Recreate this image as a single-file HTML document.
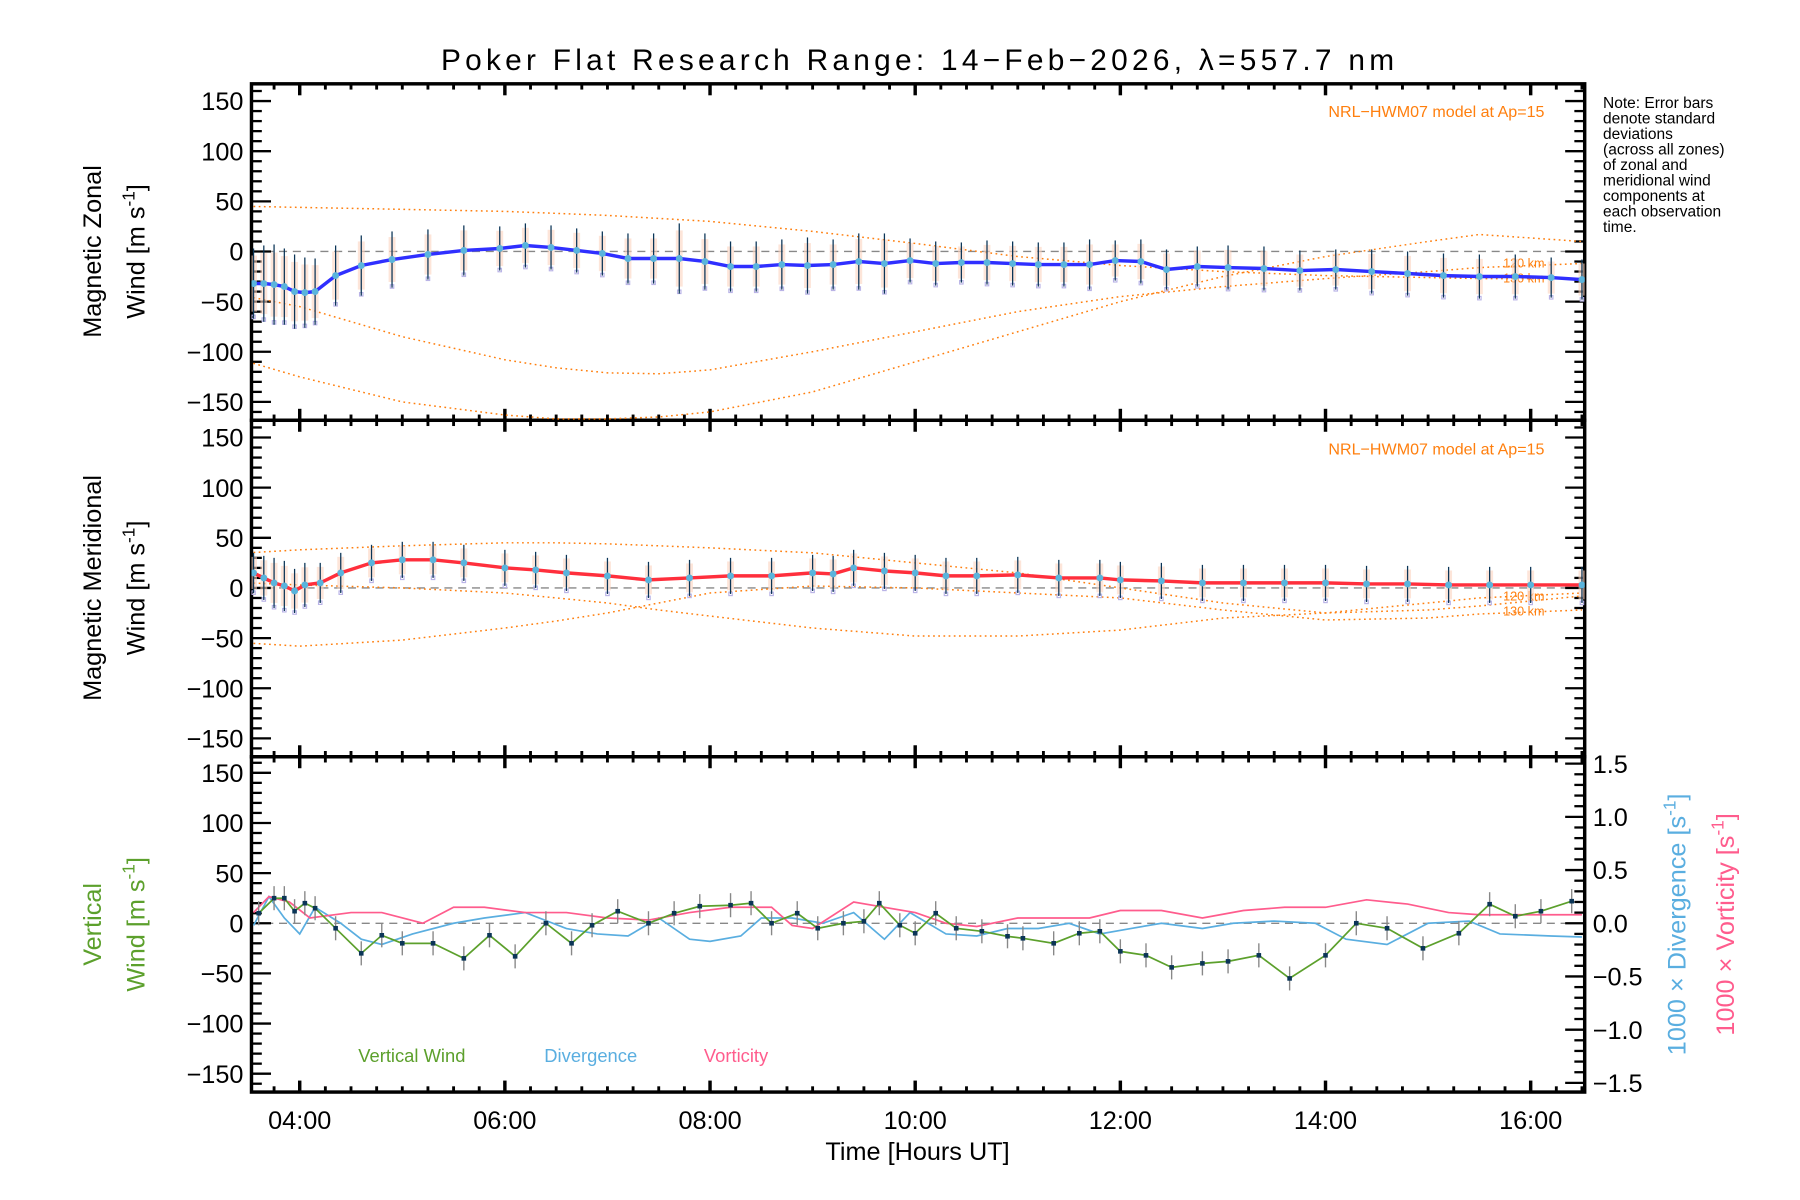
<!DOCTYPE html>
<html><head><meta charset="utf-8">
<style>
html,body{margin:0;padding:0;background:#fff;width:1800px;height:1200px;overflow:hidden}
svg{display:block}
text{font-family:"Liberation Sans",sans-serif}
</style></head>
<body>
<svg id="chart" width="1800" height="1200" viewBox="0 0 1567.5 1045" xmlns="http://www.w3.org/2000/svg">
<text x="799" y="61" font-size="26" text-anchor="middle" textLength="830">Poker Flat Research Range: 14−Feb−2026, λ=557.7 nm</text>
<g font-size="13.5">
<text x="1396" y="94">Note: Error bars</text>
<text x="1396" y="107.5">denote standard</text>
<text x="1396" y="121">deviations</text>
<text x="1396" y="134.5">(across all zones)</text>
<text x="1396" y="148">of zonal and</text>
<text x="1396" y="161.5">meridional wind</text>
<text x="1396" y="175">components at</text>
<text x="1396" y="188.5">each observation</text>
<text x="1396" y="202">time.</text>
</g>
<g id="plots"></g>
</svg>
<script>
// ---------- data ----------
const zonalTimes=[3.55,3.65,3.75,3.85,3.95,4.05,4.15,4.35,4.6,4.9,5.25,5.6,5.95,6.2,6.45,6.7,6.95,7.2,7.45,7.7,7.95,8.2,8.45,8.7,8.95,9.2,9.45,9.7,9.95,10.2,10.45,10.7,10.95,11.2,11.45,11.7,11.95,12.2,12.45,12.75,13.05,13.4,13.75,14.1,14.45,14.8,15.15,15.5,15.85,16.2,16.5];
const zonalWind=[-32,-32,-33,-35,-40,-41,-40,-24,-14,-8,-3,1,3,6,4,1,-2,-7,-7,-7,-10,-15,-15,-13,-14,-13,-10,-12,-9,-12,-11,-11,-12,-13,-13,-13,-9,-10,-18,-15,-16,-17,-19,-18,-20,-22,-24,-25,-25,-26,-28];
const zonalSd=[35,38,40,38,37,35,33,30,30,28,25,25,22,22,22,22,22,25,25,35,28,25,25,25,28,25,28,30,22,22,20,22,22,22,22,25,20,22,20,20,22,22,20,20,22,22,22,22,22,20,20];
const merTimes=[3.55,3.65,3.75,3.85,3.95,4.05,4.2,4.4,4.7,5.0,5.3,5.6,6.0,6.3,6.6,7.0,7.4,7.8,8.2,8.6,9.0,9.2,9.4,9.7,10.0,10.3,10.6,11.0,11.4,11.8,12.0,12.4,12.8,13.2,13.6,14.0,14.4,14.8,15.2,15.6,16.0,16.5];
const merWind=[15,10,5,2,-3,3,5,15,25,28,28,25,20,18,15,12,8,10,12,12,15,14,20,17,15,12,12,13,10,10,8,7,5,5,5,5,4,4,3,3,3,3];
const merSd=[20,22,25,25,22,22,20,20,18,18,18,18,18,18,18,18,18,18,18,18,18,18,18,18,18,18,18,18,18,18,18,18,18,18,18,18,18,18,18,18,18,18];
const modelTimes=[3.5,4,5,6,6.5,7,7.5,8,9,10,11,12,13,14,15,15.5,16.5];
const zonalModelA=[45,44,42,40,38,36,33,30,20,8,-5,-14,-20,-24,-26,-27,-27];
const zonalModelB=[-45,-55,-85,-108,-116,-121,-122,-118,-100,-80,-60,-45,-35,-27,-20,-16,-12];
const zonalModelC=[-110,-125,-150,-163,-167,-167,-165,-160,-140,-110,-80,-50,-25,-5,10,17,10];
const merModelA=[35,38,42,45,45,44,42,40,35,25,15,0,-15,-25,-22,-18,-8];
const merModelB=[-55,-58,-52,-40,-33,-25,-15,-5,2,0,-5,-10,-22,-32,-30,-26,-22];
const merModelC=[5,3,0,-5,-10,-15,-22,-28,-40,-48,-48,-42,-30,-25,-15,-10,-5];
const vertTimes=[3.6,3.75,3.85,3.95,4.05,4.15,4.35,4.6,4.8,5.0,5.3,5.6,5.85,6.1,6.4,6.65,6.85,7.1,7.4,7.65,7.9,8.2,8.4,8.6,8.85,9.05,9.3,9.5,9.65,9.85,10.0,10.2,10.4,10.65,10.9,11.05,11.35,11.6,11.8,12.0,12.25,12.5,12.8,13.05,13.35,13.65,14.0,14.3,14.6,14.95,15.3,15.6,15.85,16.1,16.4];
const vertWind=[10,25,25,12,20,15,-5,-30,-12,-20,-20,-35,-12,-33,0,-20,-2,12,0,10,17,18,20,0,10,-5,0,2,20,-2,-10,10,-5,-8,-13,-15,-20,-10,-8,-28,-32,-44,-40,-38,-32,-55,-32,0,-5,-25,-10,19,7,12,22];
const divTimes=[3.55,3.7,3.85,4.0,4.15,4.4,4.6,4.8,5.1,5.5,5.8,6.2,6.6,6.9,7.2,7.5,7.8,8.0,8.3,8.5,8.8,9.1,9.4,9.7,9.95,10.3,10.6,10.9,11.2,11.5,11.8,12.1,12.4,12.8,13.1,13.5,13.9,14.2,14.6,15.0,15.4,15.7,16.2,16.5];
const divergence=[-0.02,0.25,0.05,-0.1,0.15,0.0,-0.15,-0.2,-0.1,0.0,0.05,0.1,-0.05,-0.1,-0.12,0.05,-0.15,-0.17,-0.12,0.05,0.05,0.0,0.1,-0.15,0.1,-0.1,-0.12,-0.05,-0.05,0.0,-0.1,-0.05,0.0,-0.05,0.0,0.02,0.0,-0.15,-0.2,0.0,0.02,-0.1,-0.12,-0.13];
const vortTimes=[3.55,3.7,3.9,4.1,4.5,4.8,5.2,5.5,5.8,6.2,6.6,7.0,7.4,7.8,8.2,8.6,8.8,9.0,9.4,9.7,10.0,10.3,10.6,11.0,11.3,11.7,12.0,12.4,12.8,13.2,13.6,14.0,14.4,14.8,15.2,15.5,16.0,16.5];
const vorticity=[0.1,0.25,0.2,0.05,0.1,0.1,0.0,0.15,0.15,0.1,0.1,0.05,0.03,0.1,0.15,0.15,-0.02,-0.05,0.2,0.15,0.1,0.0,-0.03,0.05,0.05,0.05,0.12,0.12,0.05,0.12,0.15,0.15,0.22,0.18,0.1,0.08,0.08,0.08];
const yTickLabels=[150,100,50,0,-50,-100,-150];
const rightTickLabels=[1.5,1.0,0.5,0.0,-0.5,-1.0,-1.5];
const xTickLabels=['04:00','06:00','08:00','10:00','12:00','14:00','16:00'];
const xTickHours=[4,6,8,10,12,14,16];

// ---------- layout ----------
const L=219,R=1380;
const panels=[{top:73,bot:366,zero:219},{top:366,bot:659,zero:512},{top:659,bot:951,zero:804}];
const pxPerUnit=131/150;
const X=h=>261+(h-4)*89.33;
const Y=(p,v)=>panels[p].zero-v*pxPerUnit;
const YR=v=>804-v*(139/1.5);
const NS='http://www.w3.org/2000/svg';
const root=document.getElementById('plots');
function mk(tag,attrs,parent){const e=document.createElementNS(NS,tag);for(const k in attrs)e.setAttribute(k,attrs[k]);(parent||root).appendChild(e);return e;}
function txt(s,attrs,parent){const e=mk('text',attrs,parent);e.textContent=s;return e;}
function poly(ts,vs,yf){return ts.map((t,i)=>X(t).toFixed(1)+','+yf(vs[i]).toFixed(1)).join(' ');}

const defs=mk('defs',{});
panels.forEach((p,i)=>{const c=mk('clipPath',{id:'clip'+i},defs);mk('rect',{x:L,y:p.top,width:R-L,height:p.bot-p.top},c);});

panels.forEach((p,pi)=>{
  const g=mk('g',{});
  
  
  const z=mk('line',{x1:L,x2:R,y1:p.zero,y2:p.zero,stroke:'#888','stroke-width':1.2,'stroke-dasharray':'7,5'},g);
  
  
  for(let v=-160;v<=160;v+=10){
    const y=Y(pi,v); if(y<p.top+1||y>p.bot-1)continue;
    const len=(v%50===0)?17:9;
    mk('line',{x1:L,x2:L+len,y1:y,y2:y,stroke:'#000','stroke-width':2},g);
    if(pi<2) mk('line',{x1:R,x2:R-len,y1:y,y2:y,stroke:'#000','stroke-width':2},g);
  }
  yTickLabels.forEach(v=>{
    const t=txt(String(v).replace('-','−'),{x:212,y:Y(pi,v)+8,'font-size':22,'text-anchor':'end'},g);
    
    
  });
  for(let m=0;m<=13*60;m+=15){
    const h=3.5+m/60; const x=X(h); if(x<L+1||x>R-1)continue;
    const major=Math.abs((h-4)%2)<1e-6;
    const len=major?10:5;
    mk('line',{x1:x,x2:x,y1:p.bot,y2:p.bot-len,stroke:'#000','stroke-width':major?3:2.5},g);
    mk('line',{x1:x,x2:x,y1:p.top,y2:p.top+len,stroke:'#000','stroke-width':major?3:2.5},g);
  }
  const f=mk('rect',{x:L,y:p.top,width:R-L,height:p.bot-p.top,fill:'none',stroke:'#000','stroke-width':3},g);
  
  
});

function model(pi,vals,name){
  const l=mk('polyline',{points:poly(modelTimes,vals,v=>Y(pi,v)),fill:'none',stroke:'#ff7f0e','stroke-width':1.3,'stroke-dasharray':'1.5,3','clip-path':'url(#clip'+pi+')'});
  
  
}
model(0,zonalModelA,'zonal-model-a');model(0,zonalModelB,'zonal-model-b');model(0,zonalModelC,'zonal-model-c');
model(1,merModelA,'meridional-model-a');model(1,merModelB,'meridional-model-b');model(1,merModelC,'meridional-model-c');
[[0,98],[1,392]].forEach(([pi,y])=>{
  const t=txt('NRL−HWM07 model at Ap=15',{x:1345,y:y+4,'font-size':14,fill:'#ff7f0e','text-anchor':'end'});
  
  
});
[[0,233,'120 km'],[0,246,'130 km'],[1,523,'120 km'],[1,536,'130 km']].forEach(([pi,y,s])=>{
  const t=txt(s,{x:1345,y:y,'font-size':11,fill:'#ff7f0e','text-anchor':'end'});
  
  
});

function windSeries(pi,ts,vs,sd,color,name){
  const g=mk('g',{'clip-path':'url(#clip'+pi+')'});
  
  
  ts.forEach((t,i)=>{
    const x=X(t);
    const r=mk('rect',{x:x-3,y:Y(pi,vs[i]+sd[i]*0.8),width:6,height:sd[i]*1.6*pxPerUnit,fill:'#fbd3c0',opacity:0.6},g);
    
    
    const b=mk('rect',{x:x-1.5,y:Y(pi,vs[i]-sd[i]*0.9),width:3,height:3,fill:'none',stroke:'#b9b3e6','stroke-width':1},g);
    
    
    const e=mk('line',{x1:x,x2:x,y1:Y(pi,vs[i]+sd[i]),y2:Y(pi,vs[i]-sd[i]),stroke:'#0b3557','stroke-width':1.1},g);
    
    
  });
  const l=mk('polyline',{points:poly(ts,vs,v=>Y(pi,v)),fill:'none',stroke:color,'stroke-width':3},g);
  
  
  ts.forEach((t,i)=>{
    const c=mk('circle',{cx:X(t),cy:Y(pi,vs[i]),r:3,fill:'#5ab4dc'},g);
    
    
  });
}
windSeries(0,zonalTimes,zonalWind,zonalSd,'#2f2fff','zonal-wind');
windSeries(1,merTimes,merWind,merSd,'#ff2f3c','meridional-wind');

const g3=mk('g',{'clip-path':'url(#clip2)'});


const dl=mk('polyline',{points:poly(divTimes,divergence,YR),fill:'none',stroke:'#5aaee0','stroke-width':1.5},g3);


const vl=mk('polyline',{points:poly(vortTimes,vorticity,YR),fill:'none',stroke:'#ff5c8d','stroke-width':1.5},g3);


vertTimes.forEach((t,i)=>{
  const e=mk('line',{x1:X(t),x2:X(t),y1:Y(2,vertWind[i]+12),y2:Y(2,vertWind[i]-12),stroke:'#888','stroke-width':1.2},g3);
  
  
});
const wl=mk('polyline',{points:poly(vertTimes,vertWind,v=>Y(2,v)),fill:'none',stroke:'#5ca02c','stroke-width':1.5},g3);


vertTimes.forEach((t,i)=>{
  const c=mk('rect',{x:X(t)-2,y:Y(2,vertWind[i])-2,width:4,height:4,fill:'#0b3557'},g3);
  
  
});
for(let k=-15;k<=15;k++){
  const y=YR(k/10); if(y<660||y>950)continue;
  const len=(k%5===0)?17:9;
  mk('line',{x1:R,x2:R-len,y1:y,y2:y,stroke:'#000','stroke-width':2});
}
rightTickLabels.forEach(v=>{
  const t=txt((v<0?'−':'')+Math.abs(v).toFixed(1),{x:1387,y:YR(v)+8,'font-size':22});
  
  
});
xTickHours.forEach((h,i)=>{
  const t=txt(xTickLabels[i],{x:X(h),y:983,'font-size':22,'text-anchor':'middle'});
  
  
});
const xt=txt('Time [Hours UT]',{x:799,y:1010,'font-size':22,'text-anchor':'middle'});


function vtitle(lines,cx,cy,color,name){
  const t=mk('text',{transform:'translate('+cx+','+cy+') rotate(-90)','font-size':22,'text-anchor':'middle',fill:color});
  
  
  lines.forEach((s,i)=>{const ts=mk('tspan',{x:0,y:i*38},t);ts.innerHTML=s;});
}
vtitle(['Magnetic Zonal','Wind [m s<tspan dy="-9" font-size="15">-1</tspan><tspan dy="9">]</tspan>'],88,219,'#000','zonal-y-title');
vtitle(['Magnetic Meridional','Wind [m s<tspan dy="-9" font-size="15">-1</tspan><tspan dy="9">]</tspan>'],88,512,'#000','meridional-y-title');
vtitle(['Vertical','Wind [m s<tspan dy="-9" font-size="15">-1</tspan><tspan dy="9">]</tspan>'],88,805,'#5ca02c','vertical-y-title');
vtitle(['1000 × Divergence [s<tspan dy="-9" font-size="15">-1</tspan><tspan dy="9">]</tspan>'],1468,805,'#5aaee0','divergence-y-title');
vtitle(['1000 × Vorticity [s<tspan dy="-9" font-size="15">-1</tspan><tspan dy="9">]</tspan>'],1510,805,'#ff5c8d','vorticity-y-title');
[['Vertical Wind',312,'#5ca02c'],['Divergence',474,'#5aaee0'],['Vorticity',613,'#ff5c8d']].forEach(([s,x,c])=>{
  const t=txt(s,{x:x,y:925,'font-size':16,fill:c});
  
  
});
</script>
</body></html>
